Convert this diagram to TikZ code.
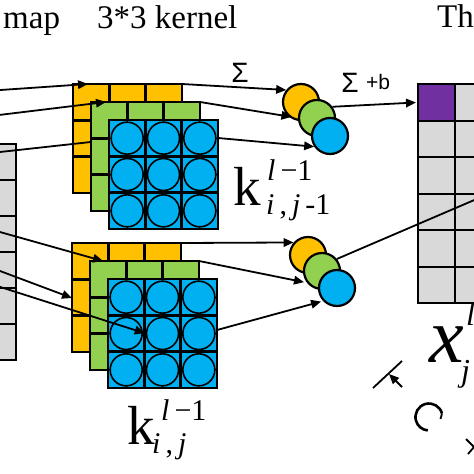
\documentclass[tikz,border=0pt]{standalone}
\usepackage{fontspec}
\setmainfont{Liberation Serif}
\newfontfamily\sansf{Liberation Sans}
\usetikzlibrary{arrows.meta,calc}
\definecolor{korange}{HTML}{FFC000}
\definecolor{kgreen}{HTML}{92D050}
\definecolor{kblue}{HTML}{00B0F0}
\definecolor{kpurple}{HTML}{7030A0}
\definecolor{kgray}{HTML}{D9D9D9}
\pgfdeclarelayer{lA}\pgfdeclarelayer{lB}\pgfdeclarelayer{lC}\pgfdeclarelayer{lD}\pgfdeclarelayer{lE}
\pgfsetlayers{lA,lB,lC,lD,lE,main}
\tikzset{
  sqbox/.style={draw=black,line width=2.4pt,minimum size=109pt,inner sep=0pt,outer sep=0pt,anchor=north west},
  cellline/.style={line width=2.4pt},
  thinline/.style={line width=0.8pt},
  kdot/.style={circle,draw=black,fill=kblue,line width=1.6pt,minimum size=32pt,inner sep=0pt},
  sumdot/.style={circle,draw=black,line width=2.2pt,minimum size=36pt,inner sep=0pt},
  conn/.style={line width=1.8pt,-{Triangle[length=10pt,width=8.5pt]}},
  plainln/.style={line width=1.8pt},
  gcell/.style={draw=black,line width=2.4pt,minimum size=36.5pt,inner sep=0pt,anchor=north west,fill=kgray},
  lcell/.style={draw=black,line width=2.4pt,minimum size=36pt,inner sep=0pt,anchor=north west,fill=kgray},
  txt/.style={anchor=base west,inner sep=0pt,font=\fontsize{33}{36}\selectfont},
  bigk/.style={anchor=base west,inner sep=0pt,font=\fontsize{55}{60}\selectfont},
  idx/.style={anchor=base west,inner sep=0pt,font=\fontsize{30}{36}\selectfont},
  sumtxt/.style={inner sep=0pt,font=\sansf\fontsize{28}{30}\selectfont},
}
\newcommand{\kernsq}[4]{%
  \node[sqbox,fill=#4] (#1) at (#2,#3) {};
  \foreach \q in {1,2}{
    \draw[cellline] ($(#1.north west)+(\q*36.33,0)$) -- ++(0,109);
    \draw[cellline] ($(#1.north west)+(0,\q*36.33)$) -- ++(109,0);
  }
}
\newcommand{\bluesq}[3]{%
  \node[sqbox,fill=kblue] (#1) at (#2,#3) {};
  \foreach \q in {0,1,2}{
    \draw[thinline] ($(#1.north west)+(18.17+\q*36.33,0)$) -- ++(0,109);
    \draw[thinline] ($(#1.north west)+(0,18.17+\q*36.33)$) -- ++(109,0);
  }
  \foreach \q in {1,2}{
    \draw[cellline] ($(#1.north west)+(\q*36.33,0)$) -- ++(0,109);
    \draw[cellline] ($(#1.north west)+(0,\q*36.33)$) -- ++(109,0);
  }
  \foreach \i in {0,1,2}{\foreach \j in {0,1,2}{
    \node[kdot] (#1-\i\j) at ($(#1.north west)+(18.17+\i*36.33,18.17+\j*36.33)$) {};
  }}
  \draw[line width=2.4pt] (#1.north west) rectangle (#1.south east);
}
\begin{document}
\begin{tikzpicture}[x=1pt,y=-1pt]
\useasboundingbox (0,0) rectangle (474,474);
\begin{pgfonlayer}{lA}
  \fill[white] (0,0) rectangle (474,474);
  \kernsq{O1}{73}{84}{korange}
  \kernsq{O2}{72}{243}{korange}
  \foreach \c in {0,1}{\foreach \r in {0,...,5}{
    \node[lcell] (in-\c-\r) at (-57+\c*36,143+\r*36) {};
  }}
\end{pgfonlayer}
\begin{pgfonlayer}{lC}
  \kernsq{G1}{91}{102}{kgreen}
  \kernsq{G2}{90}{261}{kgreen}
\end{pgfonlayer}
\begin{pgfonlayer}{lE}
  \bluesq{B1}{109}{120}
  \bluesq{B2}{108}{279}
\end{pgfonlayer}
% sum circles
\node[sumdot,fill=korange] (cO1) at (301,102) {};
\node[sumdot,fill=kgreen] (cG1) at (317,118) {};
\node[sumdot,fill=kblue] (cB1) at (330,136) {};
\node[sumdot,fill=korange] (cO2) at (308,255) {};
\node[sumdot,fill=kgreen] (cG2) at (322,271) {};
\node[sumdot,fill=kblue] (cB2) at (337,288) {};
% input connectors
\coordinate (a1) at (-20,91.4);
\coordinate (a2) at (-20,117.3);
\coordinate (a3) at (-20,154.2);
\coordinate (b1) at (-20,226.4);
\coordinate (b2) at (-20,263.5);
\coordinate (b3) at (-20,280.5);
\begin{pgfonlayer}{lB}
  \draw[conn] (a1) -- ($(O1.north west)+(15,0)$);
  \draw[conn] (a3) -- ($(B1.north west)+(0,20)$);
  \draw[conn] (b2) -- ($(O2.north west)+(0,55)$);
  % to sum circles
  \draw[conn] (O1.north east) -- (cO1.141);
  \draw[conn,shorten >=6.5pt] (G1.north east) -- (cG1.west);
  \draw[conn] ($(B1.north east)+(0,18)$) -- (cB1.214);
  \draw[conn] (O2.north east) -- (cO2.139);
  \draw[conn,shorten >=3pt] (G2.north east) -- (cG2.218);
  \draw[conn,shorten >=2pt] ($(B2.north east)+(0,51)$) -- (cB2.223);
\end{pgfonlayer}
\begin{pgfonlayer}{lD}
  \draw[conn] (a2) -- ($(G1.north west)+(15,0)$);
  \draw[conn] (b1) -- ($(G2.north west)+(13,0)$);
\end{pgfonlayer}
\draw[conn,shorten >=1pt] (b3) -- (B2-11.west);
% output grid
\foreach \c in {0,...,3}{\foreach \r in {0,...,5}{
  \node[gcell] (g-\c-\r) at (417+\c*36.5,83+\r*36.5) {};
}}
\node[gcell,fill=kpurple] (P) at (417,83) {};
\draw[conn,shorten >=1pt] (cG1.36) -- (P.west);
\coordinate (far) at (540,171.8);
\draw[plainln] (cG2.39) -- (far);
% texts
\node[txt] (tmap) at (3,28) {map};
\node[txt] (tker) at (97,28) {3*3 kernel};
\node[txt] (tthe) at (437,27) {The};
\node[sumtxt] (s1) at (240,73) {Σ};
\node[sumtxt] (s2) at (350,83) {Σ};
\node[anchor=base west,inner sep=0pt,font=\sansf\fontsize{21}{24}\selectfont] (pb) at (366,89) {+b};
\node[bigk] (k1) at (233,205) {k};
\node[idx] (k1sup) at (267,180) {\textit{l}\,−1};
\node[idx] (k1sub) at (266,214) {\textit{i}\,,\,\textit{j}\,-1};
\node[bigk] (k2) at (127,444) {k};
\node[idx] (k2sup) at (161,420) {\textit{l}\,−1};
\node[idx] (k2sub) at (152,453) {\textit{i}\,,\,\textit{j}};
\node[anchor=base west,inner sep=0pt,font=\fontsize{78}{80}\selectfont\itshape] (xl) at (429,362) {x};
\node[anchor=base west,inner sep=0pt,font=\fontsize{32}{34}\selectfont\itshape] (xsup) at (466,325) {l};
\node[anchor=base west,inner sep=0pt,font=\fontsize{32}{34}\selectfont\itshape] (xsub) at (461,381) {j};
% marks bottom right
\coordinate (m1) at (373,388);
\coordinate (m2) at (402,361);
\draw[plainln] (m1) -- (m2);
\coordinate (m3) at (402,387);
\coordinate (m4) at (389,374);
\draw[conn] (m3) -- (m4);
\coordinate (cc) at (429,417);
\draw[line width=2.6pt] ($(cc)+(13,-3.5)$) arc[start angle=-15,end angle=-265,radius=13.5];
\draw[line width=1.8pt] ($(cc)+(13,-3.5)$) -- ++(-1.5,5.5);
\coordinate (n1) at (466,439);
\coordinate (n2) at (474,447);
\coordinate (n3) at (468,454);
\draw[plainln] (n1) -- (n2) -- (n3);
\end{tikzpicture}
\end{document}
